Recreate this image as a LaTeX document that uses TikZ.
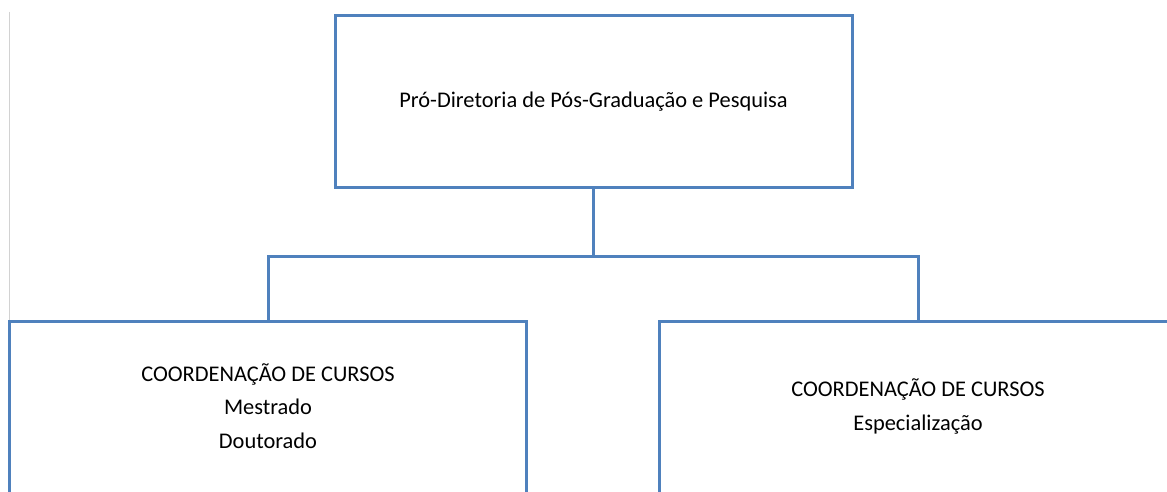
\documentclass[tikz,border=0pt]{standalone}
\usepackage{fontspec}
\setmainfont{Carlito}
\usepackage{tikz}
\usetikzlibrary{calc}
\definecolor{azul}{RGB}{79,129,189}
\tikzset{caixa/.style={draw=azul,line width=3pt,minimum width=517pt,minimum height=172pt,align=center,inner sep=0pt,font=\fontsize{22.4}{33.5}\selectfont}}

\begin{document}
\begin{tikzpicture}[x=1pt,y=-1pt]
\useasboundingbox (0,0) rectangle (1167,492);
\clip (0,0) rectangle (1167,492);
\draw[gray!35,line width=1pt] (9.5,12) -- (9.5,320);
\node[caixa] (pro) at (593.5,101.5) {Pró-Diretoria de Pós-Graduação e Pesquisa};
\node[caixa,minimum height=176pt,text depth=6pt] (mest) at (268,409) {COORDENAÇÃO DE CURSOS\\Mestrado\\Doutorado};
\node[caixa,minimum height=176pt,text depth=8.5pt] (esp) at (918,409) {COORDENAÇÃO DE CURSOS\\Especialização};
\draw[azul,line width=3pt] (pro.south) -- ++(0,67) coordinate (meio);
\draw[azul,line width=3pt] (mest.north) |- (meio) -| (esp.north);
\end{tikzpicture}
\end{document}
